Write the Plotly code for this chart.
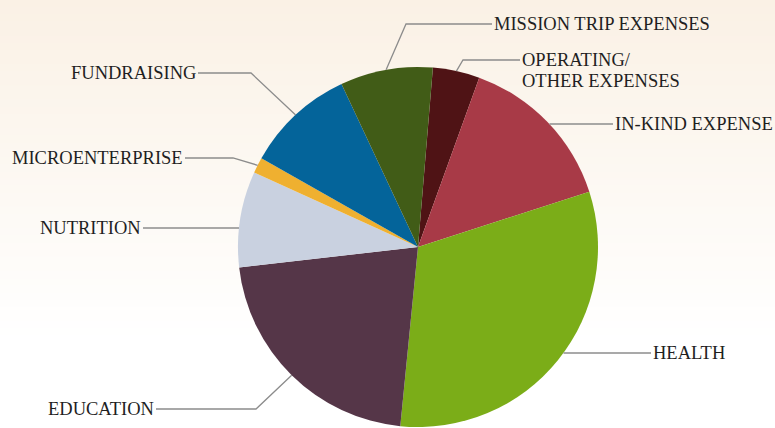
import math
import plotly.graph_objects as go

# ---- data (percent of total) ----
categories = ["OPERATING/\nOTHER EXPENSES", "IN-KIND EXPENSE", "HEALTH", "EDUCATION",
              "NUTRITION", "MICROENTERPRISE", "FUNDRAISING", "MISSION TRIP EXPENSES"]
values = [4.2, 14.5, 31.5, 21.6, 8.6, 1.4, 9.8, 8.3]
colors = ["#4f1315", "#a83a47", "#7bad18", "#553648",
          "#c9d1e0", "#efb030", "#04649a", "#415c17"]

# ---- layout / style ----
W, H = 775, 428
CX, CY, R = 418, 247, 180
ROTATION = 4.75
FONT = dict(family="Liberation Serif, Times New Roman, serif", size=18.5, color="#1f1f1f")
LINE_COLOR = "#8c8c8c"
LINE_GAP = 21

# label placement per slice: (side, end_x, end_y, elbow or None)
label_layout = [
    ("left", 520, 60, (463, 60)),
    ("left", 613, 124, None),
    ("left", 651, 353, None),
    ("right", 156, 409, (256, 409)),
    ("right", 143, 228, None),
    ("right", 185, 158, (233, 158)),
    ("right", 198, 73, (251, 73)),
    ("left", 492, 24, (406, 24)),
]


def px(x):
    return x / W


def py(y):
    return 1 - y / H


fig = go.Figure()
fig.add_trace(go.Pie(
    labels=[c.replace("\n", " ") for c in categories],
    values=values,
    sort=False,
    direction="clockwise",
    rotation=ROTATION,
    textinfo="none",
    marker=dict(colors=colors, line=dict(width=0)),
    showlegend=False,
    domain=dict(x=[px(CX - R), px(CX + R)], y=[py(CY + R), py(CY - R)]),
))

# background gradient (cream at top fading to white)
shapes = []
N = 60
top = (250, 241, 229)
for i in range(N):
    t = i / (N - 1)
    k = min(1.0, t / 0.8)
    c = tuple(round(top[j] + (255 - top[j]) * k) for j in range(3))
    shapes.append(dict(type="rect", xref="paper", yref="paper", layer="below",
                       x0=0, x1=1, y0=py(H * (i + 1) / N) - 0.002, y1=py(H * i / N),
                       fillcolor="rgb(%d,%d,%d)" % c, line=dict(width=0)))

annotations = []
total = sum(values)
start = ROTATION
for cat, v, (side, ex, ey, elbow) in zip(categories, values, label_layout):
    a0 = start
    a1 = start + v / total * 360
    start = a1
    mid = math.radians((a0 + a1) / 2)
    if elbow is not None:
        sx = CX + R * math.sin(mid)
        sy = CY - R * math.cos(mid)
        pts = [(sx, sy), elbow, (ex, ey)]
    else:
        dy = ey - CY
        dx = math.sqrt(max(R * R - dy * dy, 0))
        sx = CX + dx if side == "left" else CX - dx
        pts = [(sx, ey), (ex, ey)]
    path = "M " + " L ".join("%f,%f" % (px(x), py(y)) for x, y in pts)
    shapes.append(dict(type="path", xref="paper", yref="paper", path=path,
                       line=dict(color=LINE_COLOR, width=1.3)))
    lines = cat.split("\n")
    for j, txt in enumerate(lines):
        annotations.append(dict(
            x=px(ex + (1 if side == "left" else -1)), y=py(ey + j * LINE_GAP),
            xref="paper", yref="paper", text=txt, showarrow=False,
            xanchor="left" if side == "left" else "right", yanchor="middle",
            borderpad=0, font=FONT))

fig.update_layout(
    width=W, height=H,
    margin=dict(l=0, r=0, t=0, b=0),
    paper_bgcolor="white",
    plot_bgcolor="white",
    shapes=shapes,
    annotations=annotations,
)

fig.write_html("out.html", config={"displayModeBar": False},
               post_script="document.body.style.margin='0px';")
